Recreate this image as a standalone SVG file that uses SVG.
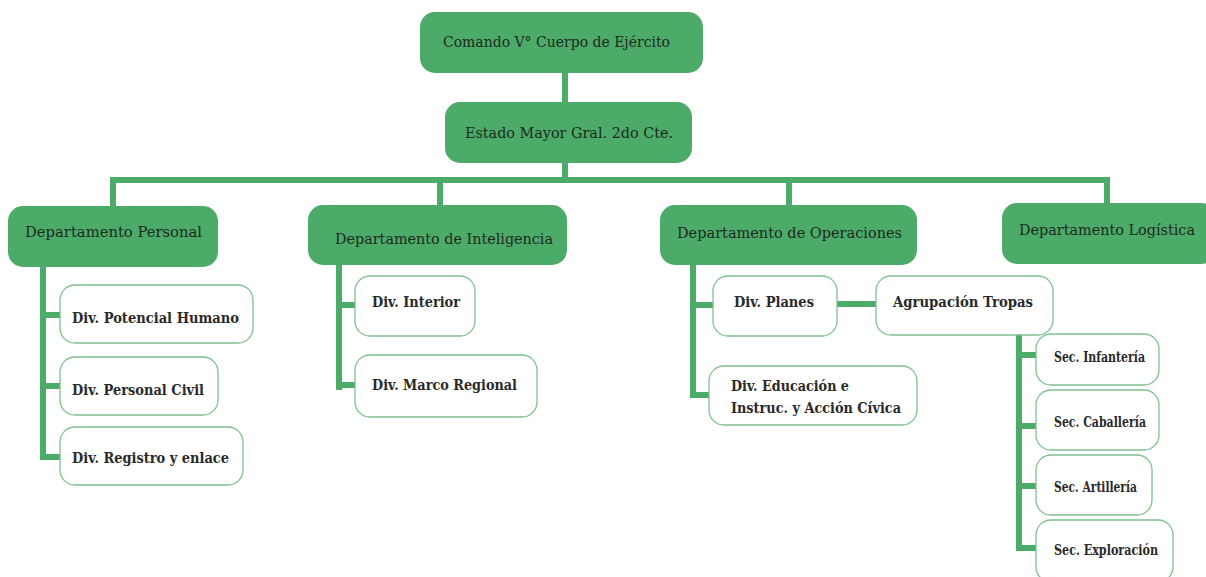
<svg xmlns="http://www.w3.org/2000/svg" width="1206" height="577" viewBox="0 0 1206 577">
<style>
.g{fill:#4DAB6A;}
.w{fill:#ffffff;stroke:#7FC08F;stroke-width:1.3;}
.tg{font-family:"DejaVu Serif","Liberation Serif",serif;font-size:14px;fill:#1c2a1e;}
.tw{font-family:"DejaVu Serif","Liberation Serif",serif;font-size:14.5px;font-weight:bold;fill:#2a2a2a;}
.c{stroke:#4DAB6A;stroke-width:6;fill:none;}
</style>
<rect width="1206" height="577" fill="#ffffff"/>
<g id="connectors">
<path class="c" d="M565 73V102M565 163V180M110 180H1110M113 177V206M440 180V205M789 180V205M1107 177V203"/>
<path class="c" d="M43 267V460M40 315H60M40 386H60M40 457H60"/>
<path class="c" d="M339 265V390M336 305H355M336 385H355"/>
<path class="c" d="M693 265V398M690 305H713M690 395H709M837 304H876"/>
<path class="c" d="M1019 335V551M1016 355H1036M1016 426H1036M1016 486H1036M1016 548H1036"/>
</g>
<g id="comando"><rect class="g" x="420" y="12" width="283" height="61" rx="15"/><text class="tg" x="443" y="47" textLength="227" lengthAdjust="spacingAndGlyphs">Comando V° Cuerpo de Ejército</text></g>
<g id="estado-mayor"><rect class="g" x="445" y="102" width="247" height="61" rx="15"/><text class="tg" x="465" y="138" textLength="208" lengthAdjust="spacingAndGlyphs">Estado Mayor Gral. 2do Cte.</text></g>
<g id="dep-personal"><rect class="g" x="8" y="206" width="210" height="61" rx="15"/><text class="tg" x="25" y="237" textLength="177" lengthAdjust="spacingAndGlyphs">Departamento Personal</text></g>
<g id="dep-inteligencia"><rect class="g" x="308" y="205" width="259" height="60" rx="15"/><text class="tg" x="335" y="244" textLength="218" lengthAdjust="spacingAndGlyphs">Departamento de Inteligencia</text></g>
<g id="dep-operaciones"><rect class="g" x="660" y="205" width="257" height="60" rx="15"/><text class="tg" x="677" y="238" textLength="225" lengthAdjust="spacingAndGlyphs">Departamento de Operaciones</text></g>
<g id="dep-logistica"><rect class="g" x="1002" y="203" width="214" height="61" rx="15"/><text class="tg" x="1019" y="235" textLength="176" lengthAdjust="spacingAndGlyphs">Departamento Logística</text></g>
<g id="div-potencial"><rect class="w" x="60" y="285" width="193" height="58" rx="15"/><text class="tw" x="72" y="323" textLength="167" lengthAdjust="spacingAndGlyphs">Div. Potencial Humano</text></g>
<g id="div-personal-civil"><rect class="w" x="60" y="357" width="158" height="58" rx="15"/><text class="tw" x="72" y="395" textLength="132" lengthAdjust="spacingAndGlyphs">Div. Personal Civil</text></g>
<g id="div-registro"><rect class="w" x="60" y="427" width="183" height="58" rx="15"/><text class="tw" x="72" y="463" textLength="157" lengthAdjust="spacingAndGlyphs">Div. Registro y enlace</text></g>
<g id="div-interior"><rect class="w" x="355" y="276" width="120" height="60" rx="15"/><text class="tw" x="372" y="307" textLength="88" lengthAdjust="spacingAndGlyphs">Div. Interior</text></g>
<g id="div-marco"><rect class="w" x="355" y="355" width="182" height="62" rx="15"/><text class="tw" x="372" y="390" textLength="145" lengthAdjust="spacingAndGlyphs">Div. Marco Regional</text></g>
<g id="div-planes"><rect class="w" x="713" y="276" width="124" height="60" rx="15"/><text class="tw" x="734" y="307" textLength="80" lengthAdjust="spacingAndGlyphs">Div. Planes</text></g>
<g id="agrupacion"><rect class="w" x="876" y="276" width="177" height="59" rx="15"/><text class="tw" x="893" y="307" textLength="140" lengthAdjust="spacingAndGlyphs">Agrupación Tropas</text></g>
<g id="div-educacion"><rect class="w" x="709" y="366" width="208" height="59" rx="15"/><text class="tw" x="731" y="391" textLength="118" lengthAdjust="spacingAndGlyphs">Div. Educación e</text><text class="tw" x="731" y="413" textLength="170" lengthAdjust="spacingAndGlyphs">Instruc. y Acción Cívica</text></g>
<g id="sec-infanteria"><rect class="w" x="1036" y="334" width="123" height="51" rx="15"/><text class="tw" x="1054" y="362" textLength="91" lengthAdjust="spacingAndGlyphs">Sec. Infantería</text></g>
<g id="sec-caballeria"><rect class="w" x="1036" y="390" width="123" height="60" rx="15"/><text class="tw" x="1054" y="427" textLength="92" lengthAdjust="spacingAndGlyphs">Sec. Caballería</text></g>
<g id="sec-artilleria"><rect class="w" x="1036" y="455" width="116" height="60" rx="15"/><text class="tw" x="1054" y="492" textLength="83" lengthAdjust="spacingAndGlyphs">Sec. Artillería</text></g>
<g id="sec-exploracion"><rect class="w" x="1036" y="520" width="137" height="62" rx="15"/><text class="tw" x="1054" y="555" textLength="104" lengthAdjust="spacingAndGlyphs">Sec. Exploración</text></g>
</svg>
